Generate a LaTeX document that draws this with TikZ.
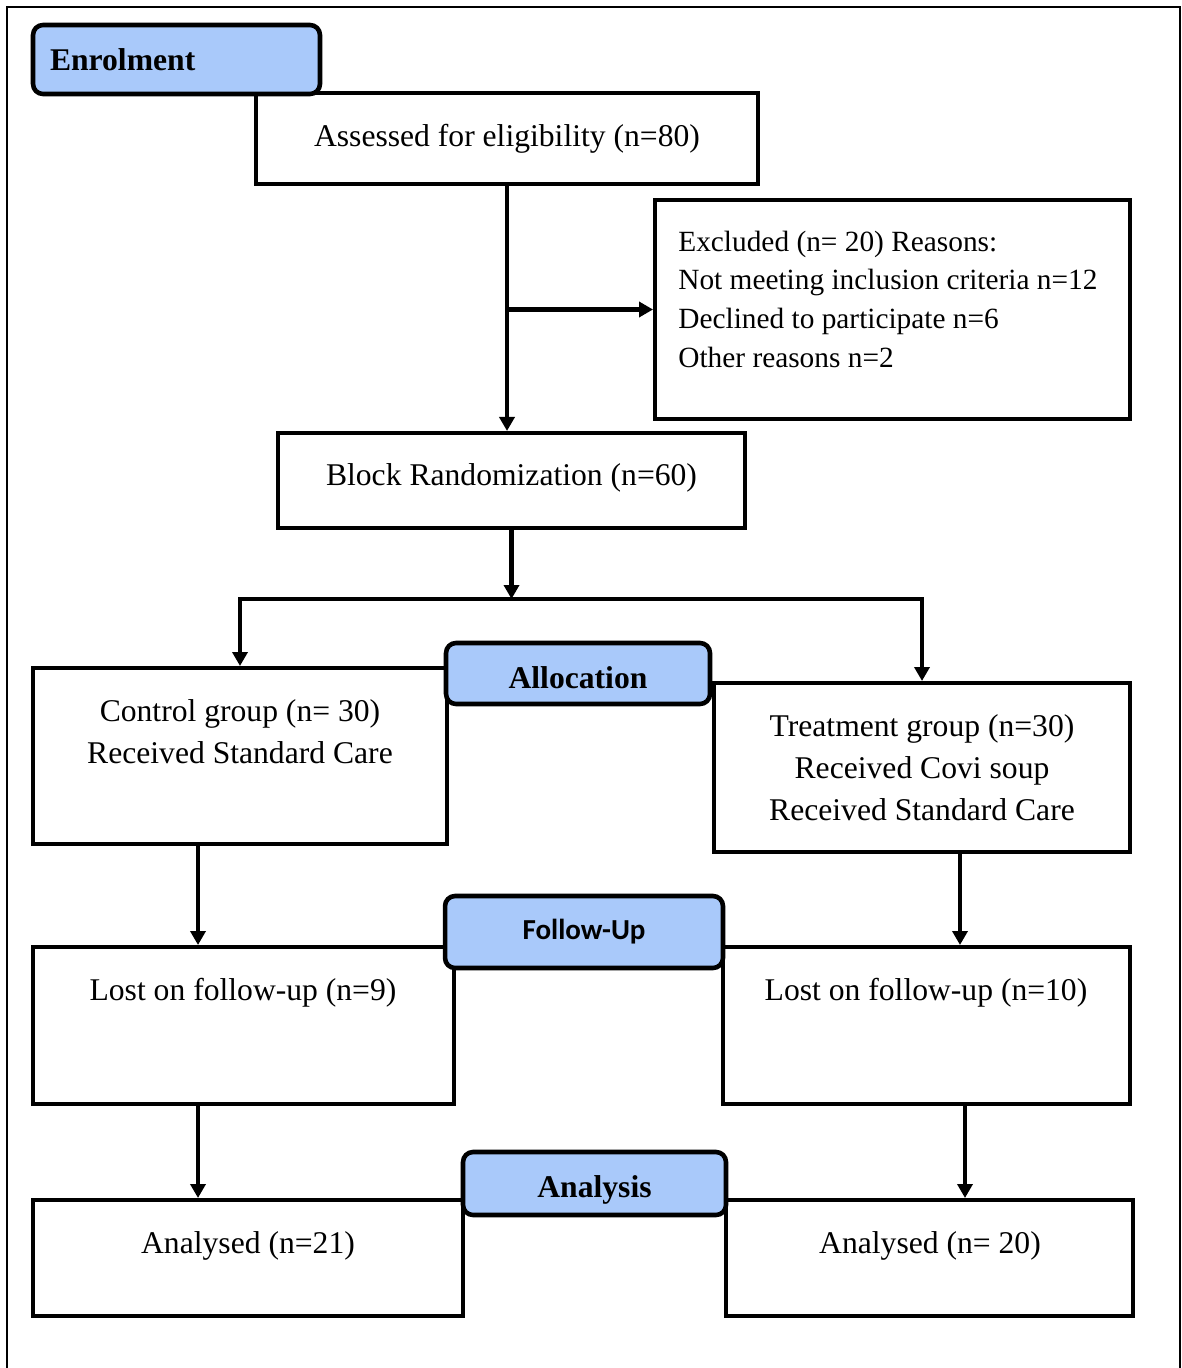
\documentclass[tikz,border=0pt]{standalone}
\usepackage{fontspec}
\setmainfont{Liberation Serif}
\newfontfamily\calibri{Carlito}
\usetikzlibrary{arrows.meta}
\definecolor{headblue}{HTML}{A9C9FA}

\begin{document}
\begin{tikzpicture}[x=0.02cm, y=-0.02cm,
                    every node/.style={font=\fontsize{18}{23}\selectfont},
                    box/.style={draw, line width=2.3pt, fill=white, inner sep=0pt},
                    head/.style={draw, line width=2.6pt, fill=headblue, rounded corners=0.2cm,
                                 inner sep=0pt, font=\fontsize{18}{23}\selectfont\bfseries},
                    arr/.style={line width=2.3pt, -{Triangle[length=0.28cm,width=0.3cm]}}]

\useasboundingbox (0,0) rectangle (1181,1368);

%frame
\draw [line width=1.1pt] (7,1368) -- (7,7) -- (1180,7) -- (1180,1368);

%enrolment boxes
\node [box, minimum width=10.04cm, minimum height=1.82cm] (assess) at (507,138.5)
      {Assessed for eligibility (n=80)};
\node [box, minimum width=9.5cm, minimum height=4.38cm] (excl) at (892.5,309.5) {};
\node [anchor=west, align=left, inner sep=0pt, font=\fontsize{16.7}{22}\selectfont] (excltext) at (678,299)
      {Excluded (n= 20) Reasons:\\Not meeting inclusion criteria n=12\\Declined to participate n=6\\Other reasons n=2};
\node [box, minimum width=9.34cm, minimum height=1.9cm, text height=0.32cm, text depth=0.12cm]
      (rand) at (511.5,480.5) {Block Randomization (n=60)};

%allocation boxes
\node [box, minimum width=8.28cm, minimum height=3.52cm] (ctrl) at (240,756) {};
\node [align=center, font=\fontsize{18}{24}\selectfont] (ctrltext) at (240,732)
      {Control group (n= 30)\\Received Standard Care};
\node [box, minimum width=8.32cm, minimum height=3.38cm, align=center,
       font=\fontsize{18}{24}\selectfont] (treat) at (922,767.5)
      {Treatment group (n=30)\\Received Covi soup\\Received Standard Care};

%follow-up boxes
\node [box, minimum width=8.42cm, minimum height=3.14cm] (lostL) at (243.5,1025.5) {};
\node (lostLtext) at (243,993) {Lost on follow-up (n=9)};
\node [box, minimum width=8.14cm, minimum height=3.14cm] (lostR) at (926.5,1025.5) {};
\node (lostRtext) at (926,993) {Lost on follow-up (n=10)};

%analysis boxes
\node [box, minimum width=8.6cm, minimum height=2.32cm] (anaL) at (248,1258) {};
\node (anaLtext) at (248,1246) {Analysed (n=21)};
\node [box, minimum width=8.14cm, minimum height=2.32cm] (anaR) at (929.5,1258) {};
\node (anaRtext) at (930,1246) {Analysed (n= 20)};

%arrows
\coordinate (branch) at (assess.south |- excl.west);
\coordinate (split) at (rand.south |- 0,599);
\draw [arr] (assess.south) -- (assess.south |- rand.north);
\draw [arr] (branch) -- (excl.west);
\draw [arr] (rand.south) -- (split);
\draw [arr] (split) -| (ctrl.north);
\draw [arr] (split) -| (treat.north);
\draw [arr] ([xshift=-0.84cm]ctrl.south) -- ([xshift=-0.84cm]ctrl.south |- lostL.north);
\draw [arr] ([xshift=0.76cm]treat.south) -- ([xshift=0.76cm]treat.south |- lostR.north);
\draw [arr] ([xshift=-0.91cm]lostL.south) -- ([xshift=-0.91cm]lostL.south |- anaL.north);
\draw [arr] ([xshift=0.77cm]lostR.south) -- ([xshift=0.77cm]lostR.south |- anaR.north);

%stage headers
\node [head, minimum width=5.74cm, minimum height=1.38cm, text width=5.06cm, align=left]
      (enrol) at (176.5,59.5) {Enrolment};
\node [head, minimum width=5.28cm, minimum height=1.22cm, text height=0.59cm, text depth=0pt]
      (alloc) at (578,673.5) {Allocation};
\node [head, minimum width=5.56cm, minimum height=1.44cm, font=\calibri\fontsize{16.5}{20}\selectfont\bfseries]
      (follow) at (584,932) {Follow-Up};
\node [head, minimum width=5.26cm, minimum height=1.26cm, text height=0.57cm, text depth=0pt]
      (analy) at (594.5,1183.5) {Analysis};

\end{tikzpicture}
\end{document}
